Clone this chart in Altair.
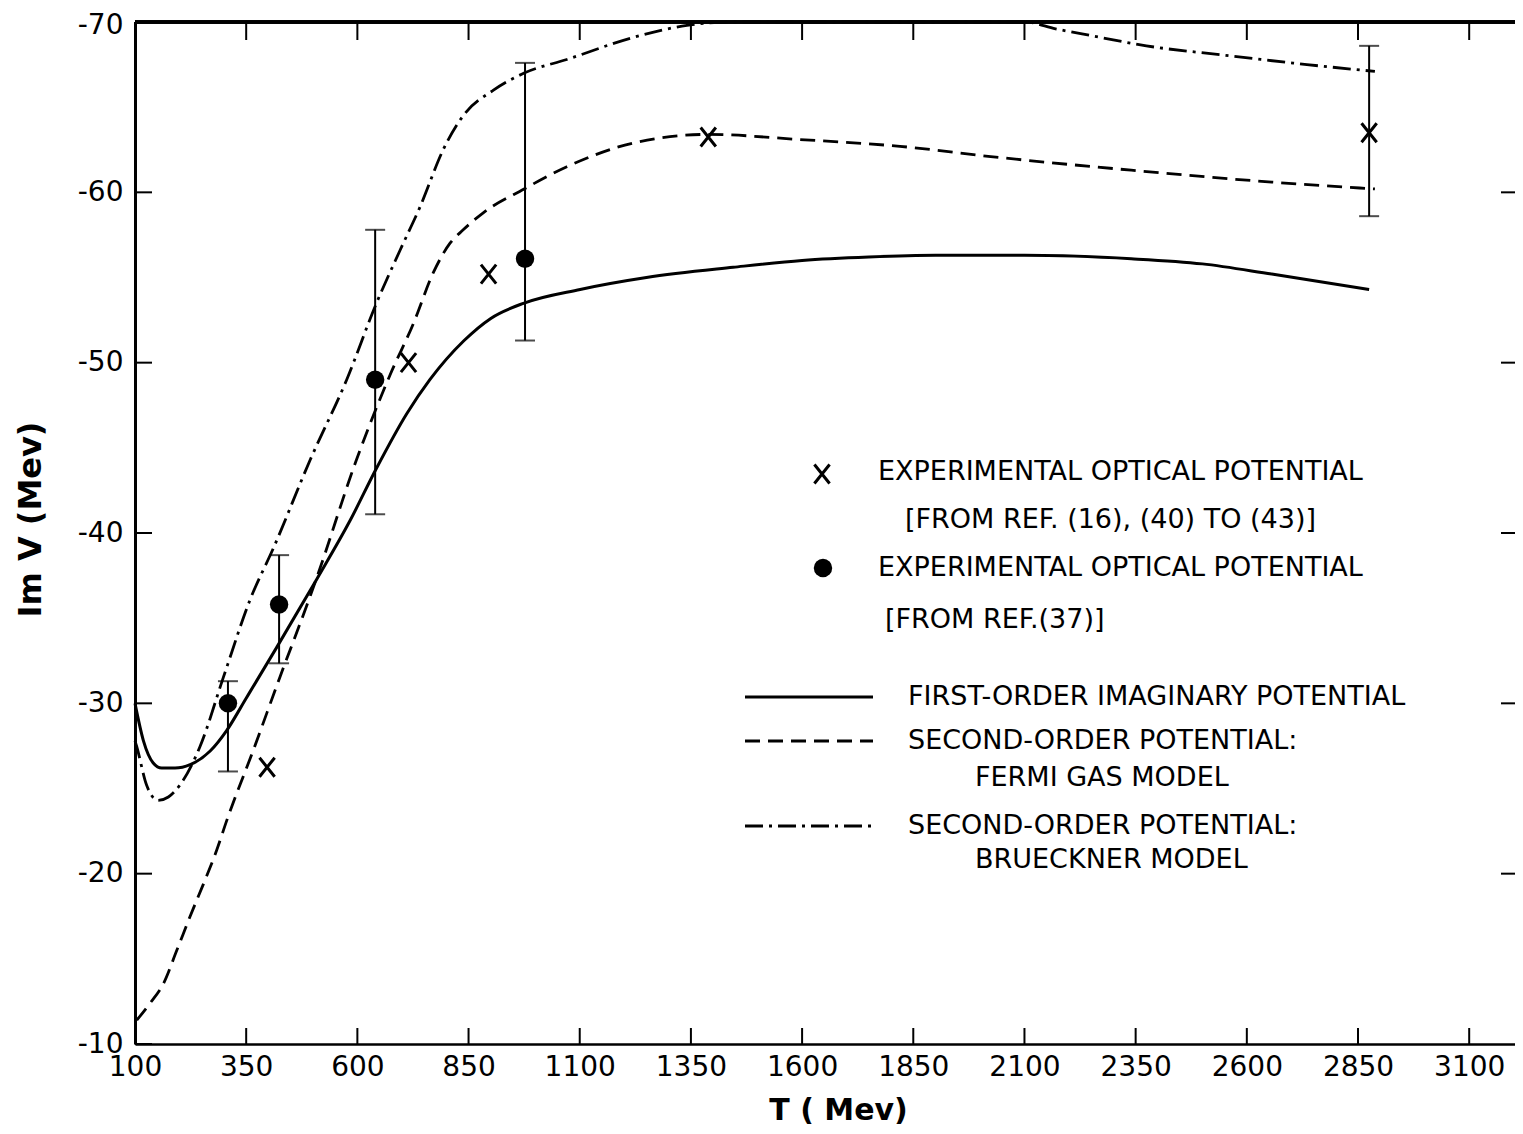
import altair as alt
import pandas as pd

# ---------------- data ----------------
first_T = [100, 119, 141, 160, 190, 224, 269, 306, 350, 419, 509, 583, 643, 711, 763, 840,
           900, 975, 1101, 1250, 1445, 1600, 1750, 1900, 2100, 2340, 2500, 2656, 2875]
first_V = [-30.0, -27.8, -26.5, -26.2, -26.2, -26.4, -27.2, -28.4, -30.3, -33.3, -37.3, -40.7,
           -43.8, -47.0, -49.0, -51.3, -52.6, -53.5, -54.3, -55.0, -55.6, -56.0, -56.2, -56.3,
           -56.3, -56.1, -55.8, -55.2, -54.3]

fermi_T = [104, 134, 164, 194, 224, 254, 284, 306, 366, 426, 494, 509, 598, 673, 726, 771,
           808, 838, 883, 975, 1071, 1221, 1389, 1595, 1820, 2024, 2340, 2656, 2888]
fermi_V = [-11.4, -12.4, -13.55, -15.5, -17.5, -19.4, -21.4, -23.1, -27.25, -31.55, -36.3,
           -37.4, -44.3, -49.25, -52.3, -55.3, -57.0, -57.8, -58.8, -60.2, -61.5, -62.9,
           -63.4, -63.1, -62.7, -62.1, -61.3, -60.6, -60.2]

brueck_T = [100, 104, 126, 152, 175, 201, 246, 299, 359, 411, 494, 576, 643, 696, 741, 793,
            838, 906, 975, 1071, 1221, 1341, 1445, 1700, 1900, 2100, 2170, 2250, 2374, 2550,
            2735, 2888]
brueck_V = [-27.8, -27.45, -25.2, -24.3, -24.5, -25.2, -27.45, -31.55, -36.1, -39.1, -44.3,
            -49.0, -53.5, -56.6, -59.15, -62.5, -64.5, -66.0, -67.0, -67.8, -69.1, -69.8,
            -70.0, -70.0, -70.0, -70.0, -69.6, -69.2, -68.6, -68.05, -67.5, -67.1]

xexp_T = [397, 715, 895, 1389, 2875]
xexp_V = [-26.25, -50.0, -55.2, -63.25, -63.5]
xexp_err_T = [2875]
xexp_err_lo = [-58.6]
xexp_err_hi = [-68.6]

dot_T = [309, 424, 640, 977]
dot_V = [-30.0, -35.8, -49.0, -56.1]
dot_lo = [-26.0, -32.35, -41.1, -51.3]
dot_hi = [-31.3, -38.7, -57.8, -67.6]

x_ticks = [100, 350, 600, 850, 1100, 1350, 1600, 1850, 2100, 2350, 2600, 2850, 3100]
y_ticks = [-70, -60, -50, -40, -30, -20, -10]
y_ticks_right = [-60, -50, -40, -30, -20]

# ---------------- layout ----------------
W, H = 1380, 1022
FONT = "DejaVu Sans"
DASH = [15, 8]
DASHDOT = [18, 6, 3, 6]

xs = alt.Scale(domain=[100, 3203], nice=False, zero=False)
ys = alt.Scale(domain=[-70, -10], reverse=True, nice=False, zero=False)

x_axis = alt.Axis(values=x_ticks, format="d", ticks=False, grid=False,
                  labelFont=FONT, labelFontSize=28, labelColor="black", labelPadding=9,
                  labelFlush=False, labelOverlap=False,
                  domainColor="black", domainWidth=2.5,
                  titleFont=FONT, titleFontSize=30, titleFontWeight="bold", titleColor="black",
                  titleX=703, titleY=75, titleBaseline="alphabetic", titleAlign="center")
y_axis = alt.Axis(values=y_ticks, labelExpr="'-' + abs(datum.value)", ticks=False, grid=False,
                  labelFont=FONT, labelFontSize=28, labelColor="black", labelPadding=12,
                  labelFlush=False, labelOverlap=False,
                  labelOffset={"condition": {"test": "datum.value == -70", "value": 3},
                               "value": 0},
                  domainColor="black", domainWidth=3,
                  titleFont=FONT, titleFontSize=32, titleFontWeight="bold", titleColor="black",
                  titleX=-105, titleY=497, titleAngle=270, titleBaseline="middle",
                  titleAlign="center")

X = alt.X("T:Q", scale=xs, axis=x_axis, title="T ( Mev)")
Y = alt.Y("V:Q", scale=ys, axis=y_axis, title="Im V (Mev)")

df_first = pd.DataFrame({"T": first_T, "V": first_V})
df_fermi = pd.DataFrame({"T": fermi_T, "V": fermi_V})
df_brueck = pd.DataFrame({"T": brueck_T, "V": brueck_V})
df_x = pd.DataFrame({"T": xexp_T, "V": xexp_V})
df_xerr = pd.DataFrame({"T": xexp_err_T, "V": xexp_err_lo, "V2": xexp_err_hi})
df_dot = pd.DataFrame({"T": dot_T, "V": dot_V})
df_doterr = pd.DataFrame({"T": dot_T, "V": dot_lo, "V2": dot_hi})
df_err = pd.concat([df_xerr, df_doterr], ignore_index=True)
df_caps = pd.DataFrame({"T": list(df_err["T"]) * 2,
                        "V": list(df_err["V"]) + list(df_err["V2"])})
df_xt = pd.DataFrame({"T": x_ticks})
df_yt = pd.DataFrame({"V": y_ticks})
df_ytr = pd.DataFrame({"V": y_ticks_right})

X_SHAPE = "M-0.8,-1L0.8,1M0.8,-1L-0.8,1"

layers = []
layers.append(alt.Chart(df_first).mark_line(color="black", strokeWidth=3, interpolate="monotone")
              .encode(x=X, y=Y))
layers.append(alt.Chart(df_fermi).mark_line(color="black", strokeWidth=2.8, strokeDash=DASH,
                                            interpolate="monotone").encode(x=X, y=Y))
layers.append(alt.Chart(df_brueck).mark_line(color="black", strokeWidth=2.8,
                                             strokeDash=DASHDOT,
                                             interpolate="monotone").encode(x=X, y=Y))
layers.append(alt.Chart(df_err).mark_rule(color="black", strokeWidth=2)
              .encode(x=X, y=Y, y2=alt.Y2("V2:Q")))
layers.append(alt.Chart(df_caps).mark_tick(color="black", orient="horizontal", size=20,
                                           thickness=2).encode(x=X, y=Y))
layers.append(alt.Chart(df_dot).mark_point(shape="circle", filled=True, size=340, color="black",
                                           opacity=1).encode(x=X, y=Y))
layers.append(alt.Chart(df_x).mark_point(shape=X_SHAPE, filled=False, size=361, color="black",
                                         strokeWidth=3, opacity=1).encode(x=X, y=Y))

# inward ticks and top frame
layers.append(alt.Chart(df_xt).mark_rule(color="black", strokeWidth=2)
              .encode(x=X, y=alt.value(H), y2=alt.value(H - 16)))
layers.append(alt.Chart(df_xt).mark_rule(color="black", strokeWidth=2)
              .encode(x=X, y=alt.value(0), y2=alt.value(18)))
layers.append(alt.Chart(df_yt).mark_rule(color="black", strokeWidth=2)
              .encode(y=Y, x=alt.value(0), x2=alt.value(17)))
layers.append(alt.Chart(df_ytr).mark_rule(color="black", strokeWidth=2)
              .encode(y=Y, x=alt.value(W - 14), x2=alt.value(W)))
layers.append(alt.Chart(df_xt).mark_rule(color="black", strokeWidth=2.5)
              .encode(x=alt.value(0), x2=alt.value(W), y=alt.value(0)))

# ---------------- hand-drawn legend ----------------
base = alt.Chart(pd.DataFrame({"k": [0]}))
legend_texts = [
    ("EXPERIMENTAL OPTICAL POTENTIAL", 743, 450),
    ("[FROM REF. (16), (40) TO (43)]", 770, 498),
    ("EXPERIMENTAL OPTICAL POTENTIAL", 743, 546),
    ("[FROM REF.(37)]", 750, 598),
    ("FIRST-ORDER IMAGINARY POTENTIAL", 773, 675),
    ("SECOND-ORDER POTENTIAL:", 773, 719),
    ("FERMI GAS MODEL", 840, 756),
    ("SECOND-ORDER POTENTIAL:", 773, 804),
    ("BRUECKNER MODEL", 840, 838),
]
for txt, lx, ly in legend_texts:
    layers.append(base.mark_text(text=txt, font=FONT, fontSize=27, color="black",
                                 align="left", baseline="middle")
                  .encode(x=alt.value(lx), y=alt.value(ly)))

layers.append(base.mark_point(shape=X_SHAPE, filled=False, size=361, color="black",
                              strokeWidth=3, opacity=1)
              .encode(x=alt.value(687), y=alt.value(452)))
layers.append(base.mark_point(shape="circle", filled=True, size=340, color="black", opacity=1)
              .encode(x=alt.value(688), y=alt.value(546)))
layers.append(base.mark_rule(color="black", strokeWidth=3)
              .encode(x=alt.value(610), x2=alt.value(738), y=alt.value(675)))
layers.append(base.mark_rule(color="black", strokeWidth=2.8, strokeDash=DASH)
              .encode(x=alt.value(610), x2=alt.value(738), y=alt.value(719)))
layers.append(base.mark_rule(color="black", strokeWidth=2.8, strokeDash=DASHDOT)
              .encode(x=alt.value(610), x2=alt.value(738), y=alt.value(804)))

chart = (alt.layer(*layers)
         .properties(width=W, height=H,
                     padding={"left": 127, "top": 14, "right": 0, "bottom": 82},
                     autosize=alt.AutoSizeParams(type="none"),
                     background="white")
         .configure_view(stroke=None))

chart.save("out.html", embed_options={"renderer": "svg", "actions": False})
